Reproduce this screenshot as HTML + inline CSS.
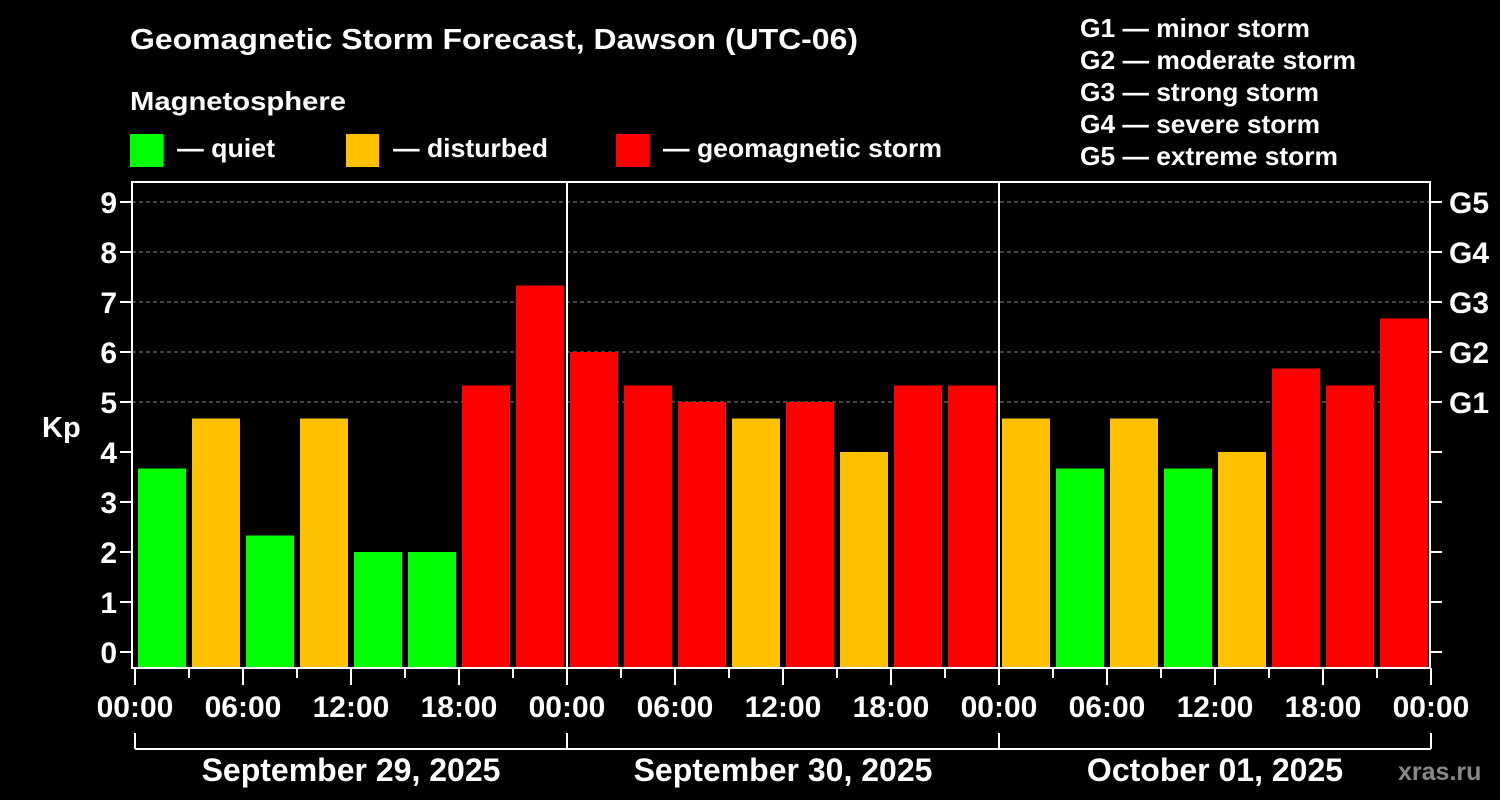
<!DOCTYPE html>
<html><head><meta charset="utf-8"><style>
html,body{margin:0;padding:0;background:#000;overflow:hidden;width:1500px;height:800px;}
svg{display:block;}
svg text{font-family:"Liberation Sans",Arial,sans-serif;font-weight:bold;fill:#fff;}
</style></head><body>
<svg id="chart" width="1500" height="800" viewBox="0 0 1500 800" xmlns="http://www.w3.org/2000/svg">
<rect width="1500" height="800" fill="#000"/>
<text x="130" y="49" font-size="29" textLength="728" lengthAdjust="spacingAndGlyphs">Geomagnetic Storm Forecast, Dawson (UTC-06)</text>
<text x="130" y="110" font-size="26" textLength="216" lengthAdjust="spacingAndGlyphs">Magnetosphere</text>
<g><rect x="130" y="134" width="33" height="33" fill="#00ff00"/><text x="177" y="157" font-size="26" textLength="98" lengthAdjust="spacingAndGlyphs">— quiet</text></g>
<g><rect x="346" y="134" width="33" height="33" fill="#ffc000"/><text x="393" y="157" font-size="26" textLength="155" lengthAdjust="spacingAndGlyphs">— disturbed</text></g>
<g><rect x="616" y="134" width="33" height="33" fill="#ff0000"/><text x="663" y="157" font-size="26" textLength="279" lengthAdjust="spacingAndGlyphs">— geomagnetic storm</text></g>
<g font-size="26">
<text x="1080" y="37" textLength="230" lengthAdjust="spacingAndGlyphs">G1 — minor storm</text>
<text x="1080" y="69" textLength="276" lengthAdjust="spacingAndGlyphs">G2 — moderate storm</text>
<text x="1080" y="101" textLength="239" lengthAdjust="spacingAndGlyphs">G3 — strong storm</text>
<text x="1080" y="133" textLength="240" lengthAdjust="spacingAndGlyphs">G4 — severe storm</text>
<text x="1080" y="165" textLength="258" lengthAdjust="spacingAndGlyphs">G5 — extreme storm</text>
</g>
<text x="42" y="437" font-size="29">Kp</text>
<g id="grid"></g><g id="bars"></g><g id="axes"></g>
<text x="1398" y="780" font-size="25" style="fill:#888">xras.ru</text>
</svg>
<script>
const kpValues = [3.67,4.67,2.33,4.67,2.0,2.0,5.33,7.33, 6.0,5.33,5.0,4.67,5.0,4.0,5.33,5.33, 4.67,3.67,4.67,3.67,4.0,5.67,5.33,6.67];
const dayLabels = ["September 29, 2025","September 30, 2025","October 01, 2025"];
const hourLabels = ["00:00","06:00","12:00","18:00"];
const yTicks = [0,1,2,3,4,5,6,7,8,9];
const gLabels = ["G1","G2","G3","G4","G5"];
const NS="http://www.w3.org/2000/svg";
const x0=135, pxPerSlot=54, plotTop=182, plotBottom=668;
const yS=v=>652-50*v;
const xS=i=>x0+i*pxPerSlot;
function mk(tag,attrs,parent){const e=document.createElementNS(NS,tag);for(const k in attrs)e.setAttribute(k,attrs[k]);parent.appendChild(e);return e;}
const grid=document.getElementById('grid'),bars=document.getElementById('bars'),axes=document.getElementById('axes');
gLabels.forEach((g,i)=>{const v=5+i;
 const l=mk('line',{x1:132,x2:1430,y1:yS(v),y2:yS(v),stroke:'#888','stroke-dasharray':'4,3','stroke-width':1},grid);
 
 
 const t=mk('text',{x:1449,y:yS(v)+11,'font-size':30},axes);t.textContent=g;
 
 
});
kpValues.forEach((v,i)=>{
 const c=v>=5?'#ff0000':(v>=4?'#ffc000':'#00ff00');
 const r=mk('rect',{x:xS(i)+3,y:yS(v),width:48,height:plotBottom-yS(v),fill:c},bars);
 
 
});
mk('rect',{x:132,y:plotTop,width:1298,height:plotBottom-plotTop,fill:'none',stroke:'#fff','stroke-width':2},axes);
[1,2].forEach(d=>{const l=mk('line',{x1:xS(d*8),x2:xS(d*8),y1:plotTop,y2:plotBottom,stroke:'#fff','stroke-width':2},axes);
 
 });
yTicks.forEach(v=>{
 mk('line',{x1:120,x2:132,y1:yS(v),y2:yS(v),stroke:'#fff','stroke-width':2},axes);
 mk('line',{x1:1430,x2:1442,y1:yS(v),y2:yS(v),stroke:'#fff','stroke-width':2},axes);
 const t=mk('text',{x:117,y:yS(v)+11,'font-size':30,'text-anchor':'end'},axes);t.textContent=v;
 
 
});
for(let i=0;i<=24;i++){const x=xS(i);
 mk('line',{x1:x,x2:x,y1:plotBottom,y2:i%2==0?685:678,stroke:'#fff','stroke-width':2},axes);
 if(i%2==0){const t=mk('text',{x:x,y:717,'font-size':30,'text-anchor':'middle'},axes);t.textContent=hourLabels[(i/2)%4];
  
  }
}
mk('line',{x1:xS(0),x2:xS(24),y1:749,y2:749,stroke:'#fff','stroke-width':2},axes);
for(let d=0;d<=3;d++)mk('line',{x1:xS(d*8),x2:xS(d*8),y1:733,y2:749,stroke:'#fff','stroke-width':2},axes);
dayLabels.forEach((s,d)=>{const t=mk('text',{x:xS(d*8+4),y:781,'font-size':32,'text-anchor':'middle'},axes);t.textContent=s;
 
 });
</script>
</body></html>
